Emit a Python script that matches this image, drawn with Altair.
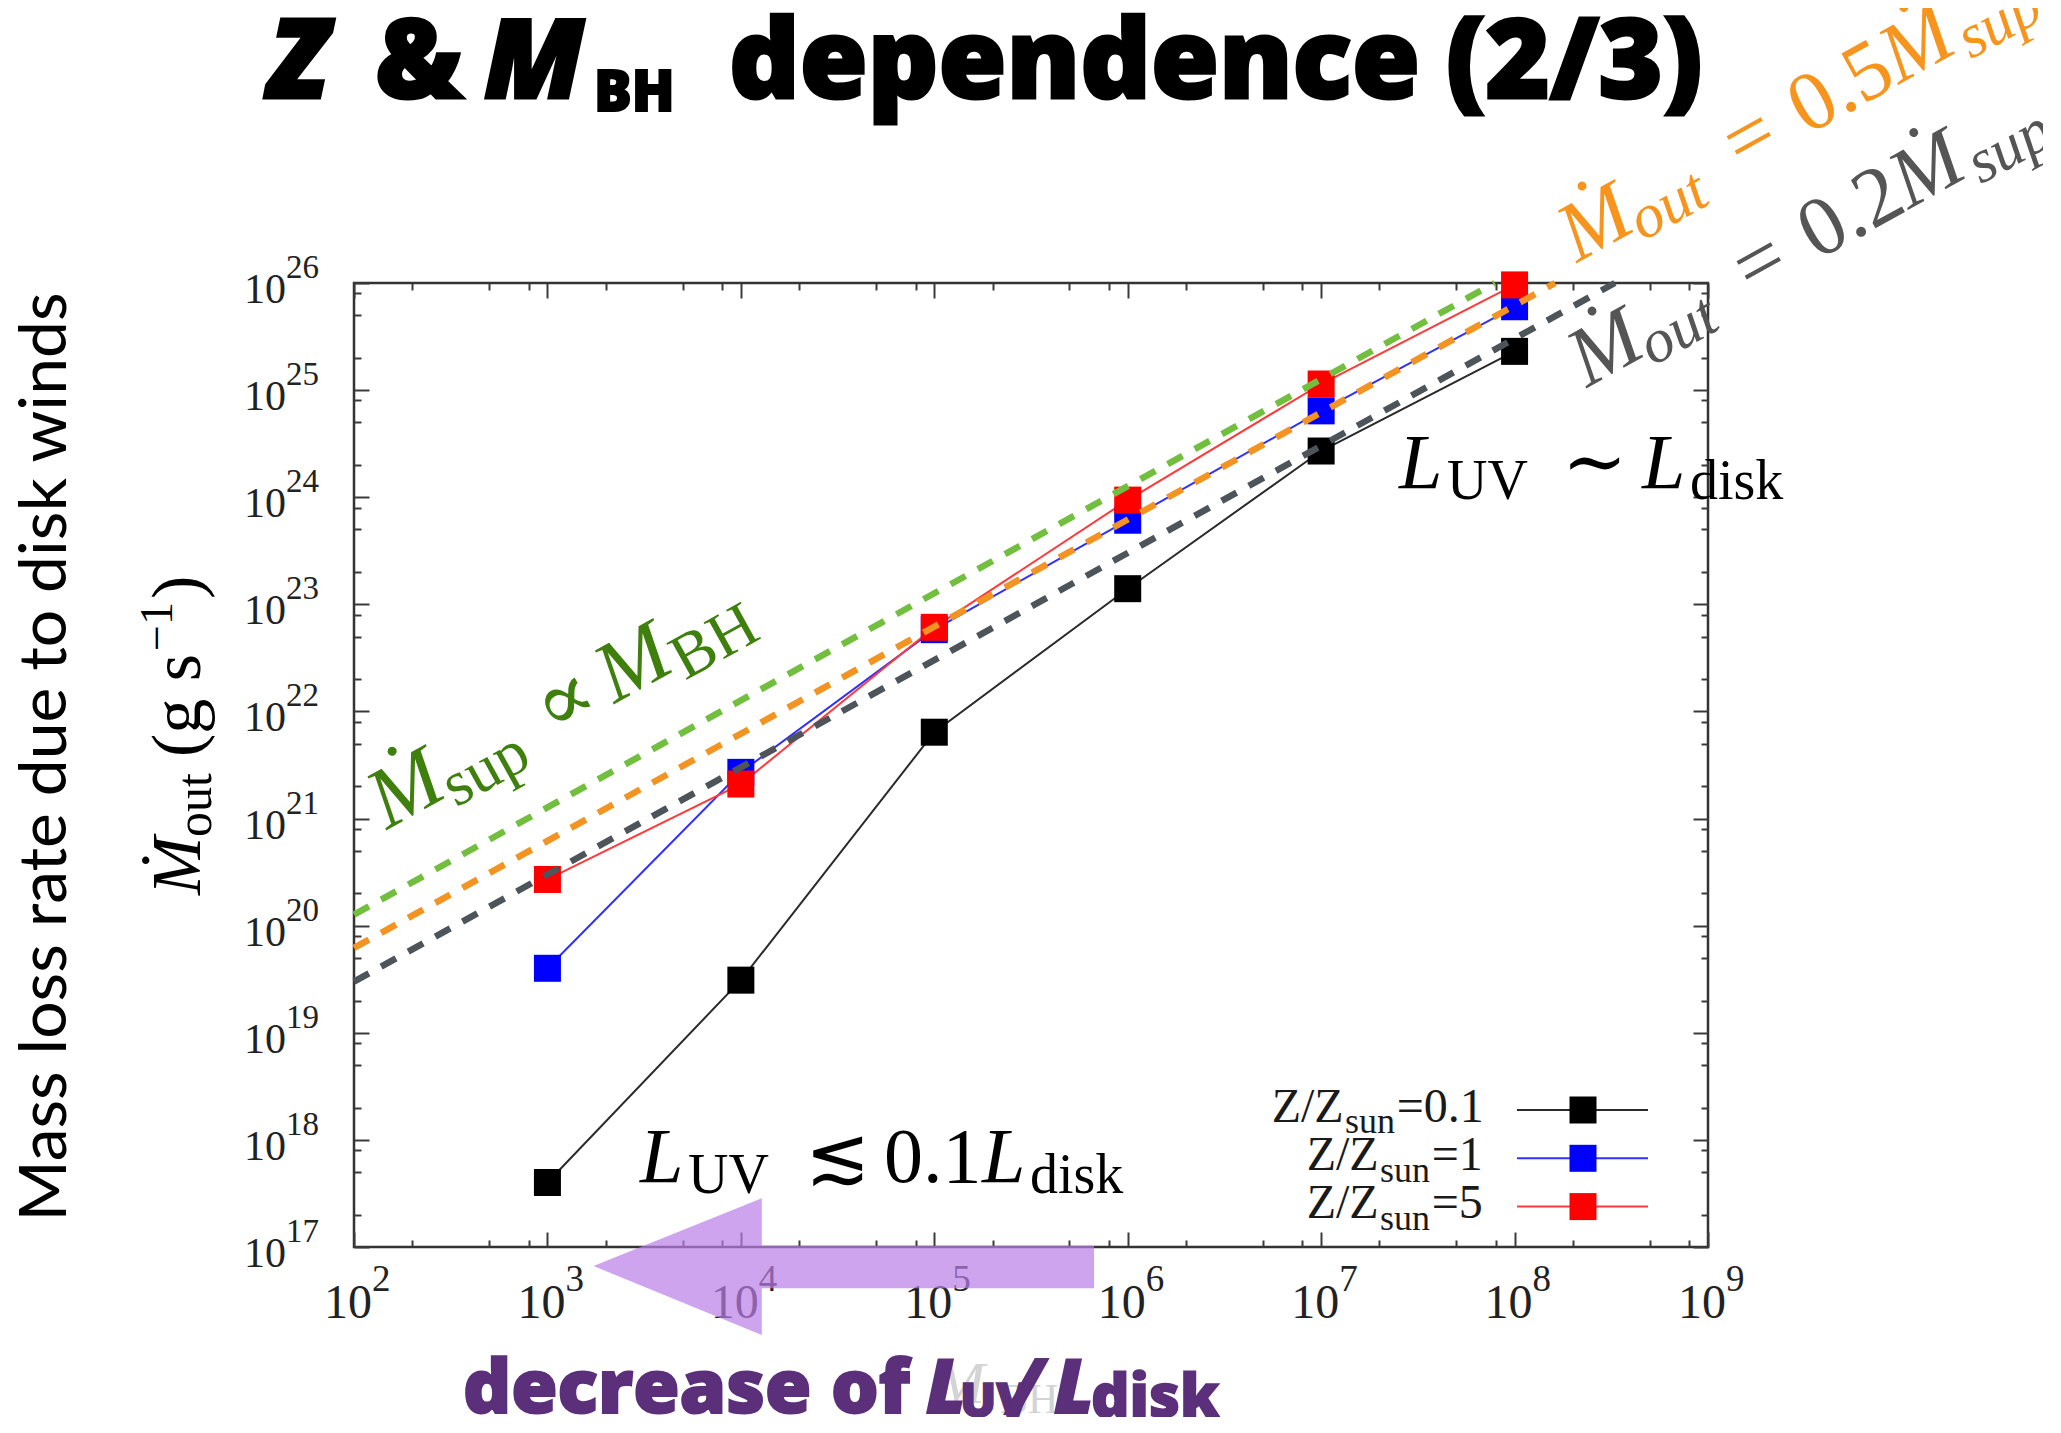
import altair as alt
import pandas as pd

# ---------------- data ----------------
m_bh = [1e3, 1e4, 1e5, 1e6, 1e7, 1e8]
mdot_z01 = [4.0e17, 3.1e19, 6.4e21, 1.4e23, 2.7e24, 2.3e25]
mdot_z1 = [4.0e19, 2.7e21, 5.8e22, 6.1e23, 6.4e24, 6.0e25]
mdot_z5 = [2.7e20, 2.1e21, 6.1e22, 9.4e23, 1.14e25, 9.6e25]
series_names = ["Z/Zsun=0.1", "Z/Zsun=1", "Z/Zsun=5"]

# dashed guide lines (end points)
sup_x = [1e2, 7.9e7]
sup_y = [1.27e20, 1e26]
half_x = [1e2, 1.62e8]
half_y = [6.2e19, 1e26]
fifth_x = [1e2, 3.3e8]
fifth_y = [3.0e19, 1e26]

# axis ticks
x_major = [1e2, 1e3, 1e4, 1e5, 1e6, 1e7, 1e8, 1e9]
x_exp = ["2", "3", "4", "5", "6", "7", "8", "9"]
x_minor = [2e2, 5e2, 8e2, 2e3, 5e3, 8e3, 2e4, 5e4, 8e4, 2e5, 5e5, 8e5,
           2e6, 5e6, 8e6, 2e7, 5e7, 8e7, 2e8, 5e8, 8e8]
y_major = [1e17, 1e18, 1e19, 1e20, 1e21, 1e22, 1e23, 1e24, 1e25, 1e26]
y_exp = ["17", "18", "19", "20", "21", "22", "23", "24", "25", "26"]
y_minor = [2e17, 5e17, 8e17, 2e18, 5e18, 8e18, 2e19, 5e19, 8e19,
           2e20, 5e20, 8e20, 2e21, 5e21, 8e21, 2e22, 5e22, 8e22,
           2e23, 5e23, 8e23, 2e24, 5e24, 8e24, 2e25, 5e25, 8e25]

# ---------------- layout ----------------
W, H = 1354, 964
X0, Y0 = 354, 283   # page position of the plot area
SERIF = "Liberation Serif, DejaVu Serif, serif"
HEAVY = "Open Sans, Lato, sans-serif"
TICKC = "#3a3a3a"

xs = alt.Scale(type="log", domain=[1e2, 1e9])
ys = alt.Scale(type="log", domain=[1e17, 1e26])


def ax(orient, values, size):
    return alt.Axis(orient=orient, values=values, tickSize=size, offset=-size,
                    labels=False, domain=False, grid=False, title=None,
                    tickColor=TICKC, tickWidth=2)


df = pd.DataFrame({
    "M": m_bh * 3,
    "Mdot": mdot_z01 + mdot_z1 + mdot_z5,
    "series": [s for s in series_names for _ in m_bh],
})

lines = alt.Chart(df).mark_line(strokeWidth=2).encode(
    x=alt.X("M:Q", scale=xs, axis=ax("bottom", x_major, 15)),
    y=alt.Y("Mdot:Q", scale=ys, axis=ax("left", y_major, 15)),
    color=alt.Color("series:N", legend=None,
                    scale=alt.Scale(domain=series_names,
                                    range=["#2a2a2a", "#3030ff", "#ff3a3a"])),
)

squares = alt.Chart(df).mark_square(size=729, opacity=1, strokeWidth=0).encode(
    x=alt.X("M:Q", scale=xs, axis=ax("bottom", x_minor, 7)),
    y=alt.Y("Mdot:Q", scale=ys, axis=ax("left", y_minor, 7)),
    fill=alt.Fill("series:N", legend=None,
                  scale=alt.Scale(domain=series_names,
                                  range=["#000000", "#0000ff", "#ff0000"])),
)


def guide(xv, yv, color, xaxis, yaxis):
    d = pd.DataFrame({"M": xv, "Mdot": yv})
    return alt.Chart(d).mark_line(color=color, strokeWidth=6.5,
                                  strokeDash=[17, 14]).encode(
        x=alt.X("M:Q", scale=xs, axis=xaxis),
        y=alt.Y("Mdot:Q", scale=ys, axis=yaxis),
    )


g_fifth = guide(fifth_x, fifth_y, "#4d545a", ax("top", x_major, 15), ax("right", y_major, 15))
g_half = guide(half_x, half_y, "#f39322", ax("top", x_minor, 7), ax("right", y_minor, 7))
g_sup = guide(sup_x, sup_y, "#72bf40", None, None)

# tick labels (10 with superscript exponent)
xt = pd.DataFrame({"v": x_major, "e": x_exp})
yt = pd.DataFrame({"v": y_major, "e": y_exp})
xbase = alt.Chart(xt).mark_text(font=SERIF, fontSize=48, align="right",
                                baseline="alphabetic", dx=18, color="#222").encode(
    x=alt.X("v:Q", scale=xs, axis=None), y=alt.value(1318 - Y0), text=alt.value("10"))
xexp = alt.Chart(xt).mark_text(font=SERIF, fontSize=37, align="left",
                               baseline="alphabetic", dx=18, color="#222").encode(
    x=alt.X("v:Q", scale=xs, axis=None), y=alt.value(1291 - Y0), text="e:N")
ybase = alt.Chart(yt).mark_text(font=SERIF, fontSize=42, align="right",
                                baseline="alphabetic", dy=20, color="#222").encode(
    y=alt.Y("v:Q", scale=ys, axis=None), x=alt.value(286 - X0), text=alt.value("10"))
yexp = alt.Chart(yt).mark_text(font=SERIF, fontSize=33, align="left",
                               baseline="alphabetic", dy=-5, color="#222").encode(
    y=alt.Y("v:Q", scale=ys, axis=None), x=alt.value(286 - X0), text="e:N")

one = pd.DataFrame({"k": [0]})


def T(text, px, py, size, color="black", font=SERIF, style="normal",
      weight="normal", align="left", angle=0, dx=0, dy=0, sw=0):
    props = dict(font=font, fontSize=size, color=color, fontStyle=style,
                 fontWeight=weight, align=align, baseline="alphabetic",
                 dx=dx, dy=dy)
    if sw:
        props["stroke"] = color
        props["strokeWidth"] = sw
    if angle:
        props["angle"] = angle
    return alt.Chart(one).mark_text(**props).encode(
        x=alt.value(px - X0), y=alt.value(py - Y0), text=alt.value(text))


def rotated(pieces, px, py, angle, color, font=SERIF):
    out = []
    for text, dx, dy, size, style in pieces:
        out.append(T(text, px, py, size, color=color, font=font, style=style,
                     angle=angle, dx=dx, dy=dy))
    return out


ann = []
# title
ann += [
    T("Z", 269, 98, 110, font=HEAVY, weight=800, style="italic", sw=3),
    T("&", 375, 98, 110, font=HEAVY, weight=800, sw=3),
    T("M", 484, 98, 110, font=HEAVY, weight=800, style="italic", sw=3),
    T("BH", 594, 111, 56, font=HEAVY, weight=800, sw=2),
    T("dependence", 729, 98, 110, font=HEAVY, weight=800, sw=3),
    T("(2/3)", 1446, 98, 110, font=HEAVY, weight=800, sw=3),
]
# y titles
ann.append(T("Mass loss rate due to disk winds", 66, 757, 66, font="Lato",
             align="center", angle=270))
ann += rotated([("Ṁ", 0, 0, 70, "italic"), ("out", 58, 11, 50, "normal"),
                ("(g s", 138, 0, 70, "normal"), ("−1", 244, -28, 46, "normal"),
                (")", 296, 0, 70, "normal")], 200, 895, 270, "black")
# x title (mostly hidden)
ann += [T("M", 935, 1403, 60, color="#d4d4d4", style="italic"),
        T("BH", 1000, 1413, 42, color="#d4d4d4")]
# guide-line annotations
ann += rotated([("Ṁ", 0, 0, 86, "italic"), ("sup", 71, 14, 64, "normal"),
                ("∝", 189, 0, 86, "normal"), ("M", 260, 0, 86, "italic"),
                ("BH", 333, 14, 64, "normal")], 387, 830, 331, "#3f7f0e")
ann += rotated([("Ṁ", 0, 0, 84, "italic"), ("out", 68, 13, 62, "italic"),
                ("=", 188, 0, 84, "normal"), ("0.5", 263, 0, 84, "normal"),
                ("Ṁ", 368, 0, 84, "italic"), ("sup", 443, 13, 62, "italic")],
               1577, 263, 331, "#f7941d")
ann += rotated([("Ṁ", 0, 0, 84, "italic"), ("out", 68, 13, 62, "italic"),
                ("=", 188, 0, 84, "normal"), ("0.2", 263, 0, 84, "normal"),
                ("Ṁ", 368, 0, 84, "italic"), ("sup", 443, 13, 62, "italic")],
               1587, 388, 331, "#555555")
# regime annotations
ann += [T("L", 1399, 488, 78, style="italic"), T("UV", 1447, 499, 56),
        T("∼", 1562, 488, 78), T("L", 1642, 488, 78, style="italic"),
        T("disk", 1690, 499, 56)]
ann += [T("L", 640, 1182, 78, style="italic"), T("UV", 688, 1193, 56),
        T("≲", 805, 1182, 78), T("0.1", 884, 1182, 78),
        T("L", 982, 1182, 78, style="italic"), T("disk", 1030, 1193, 56)]

# legend
leg_colors_line = ["#2a2a2a", "#3030ff", "#ff3a3a"]
leg_colors_fill = ["#000000", "#0000ff", "#ff0000"]
leg_vals = ["=0.1", "=1", "=5"]
leg_z = [1271.7, 1306.7, 1306.7]
leg_base = [1121.7, 1170.0, 1218.3]
for i in range(3):
    b = leg_base[i]
    zx = leg_z[i]
    ann += [T("Z/Z", zx, b, 48, color="#1a1a1a"),
            T("sun", zx + 73.3, b + 11.6, 36, color="#1a1a1a"),
            T(leg_vals[i], zx + 125, b, 48, color="#1a1a1a")]
    ann.append(alt.Chart(one).mark_rule(color=leg_colors_line[i], strokeWidth=2).encode(
        x=alt.value(1517 - X0), x2=alt.value(1648 - X0), y=alt.value(b - 11.7 - Y0)))
    ann.append(alt.Chart(one).mark_square(size=729, opacity=1, strokeWidth=0,
                                          color=leg_colors_fill[i]).encode(
        x=alt.value(1583 - X0), y=alt.value(b - 11.7 - Y0)))

# arrow
arrow_path = ("M -1 -0.002 L -0.3275 -0.2725 L -0.3275 -0.0831 L 1 -0.0831 "
              "L 1 0.0871 L -0.3275 0.0871 L -0.3275 0.2737 Z")
ann.append(alt.Chart(one).mark_point(shape=arrow_path, size=250500, filled=True,
                                     color="#b87ee6", opacity=0.7, strokeWidth=0).encode(
    x=alt.value(843.75 - X0), y=alt.value(1266.5 - Y0)))

# bottom statement
PUR = "#5b2f7a"
ann += [T("decrease of", 463, 1413, 75, color=PUR, font=HEAVY, weight=800, sw=2),
        T("L", 926, 1413, 75, color=PUR, font=HEAVY, weight=800, style="italic", sw=2),
        T("UV", 960, 1417, 48, color=PUR, font=HEAVY, weight=800, sw=1.5),
        T("/", 1008, 1413, 75, color=PUR, font=HEAVY, weight=800, style="italic", sw=2),
        T("L", 1054, 1413, 75, color=PUR, font=HEAVY, weight=800, style="italic", sw=2),
        T("disk", 1091, 1417, 60, color=PUR, font=HEAVY, weight=800, sw=1.5)]

chart = alt.layer(lines, squares, g_fifth, g_half, g_sup,
                  xbase, xexp, ybase, yexp, *ann).resolve_axis(
    x="independent", y="independent"
).properties(
    width=W, height=H,
    padding={"left": X0 - 8, "top": Y0 - 8, "right": 335, "bottom": 170},
    autosize=alt.AutoSizeParams(type="none"),
).configure_view(stroke="#333333", strokeWidth=2.5)

chart.save("out.html", embed_options={"renderer": "svg", "actions": False})
